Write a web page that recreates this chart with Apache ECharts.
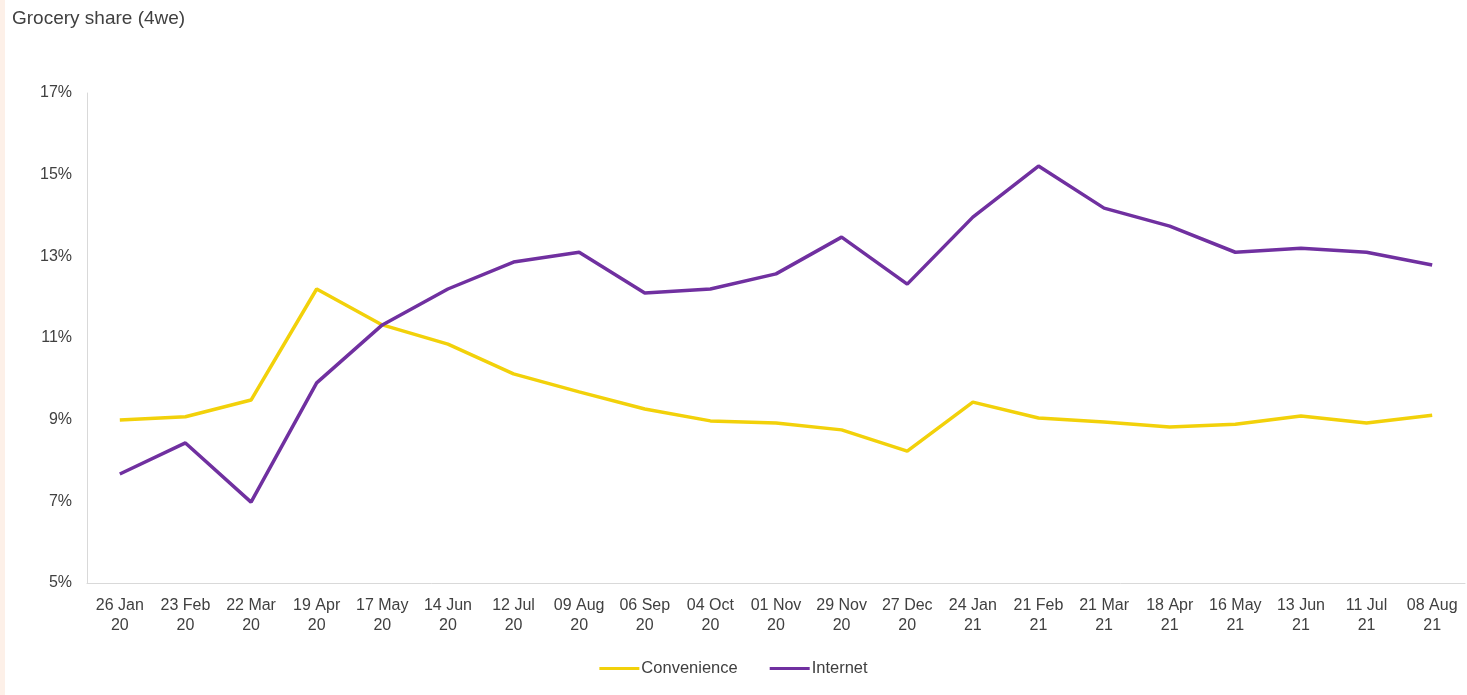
<!DOCTYPE html>
<html><head><meta charset="utf-8">
<script src="https://cdn.jsdelivr.net/npm/echarts@6/dist/echarts.min.js"></script>
<style>html,body{margin:0;padding:0;background:#fff}#c{width:1467px;height:695px}</style>
</head><body><div id="c"></div>
<script>
const categories = ["26 Jan\n20","23 Feb\n20","22 Mar\n20","19 Apr\n20","17 May\n20","14 Jun\n20","12 Jul\n20","09 Aug\n20","06 Sep\n20","04 Oct\n20","01 Nov\n20","29 Nov\n20","27 Dec\n20","24 Jan\n21","21 Feb\n21","21 Mar\n21","18 Apr\n21","16 May\n21","13 Jun\n21","11 Jul\n21","08 Aug\n21"];
const convenience = [8.99,9.07,9.48,12.2,11.32,10.85,10.12,9.68,9.26,8.97,8.92,8.75,8.23,9.43,9.04,8.94,8.82,8.89,9.09,8.92,9.11];
const internet = [7.67,8.43,6.98,9.9,11.32,12.2,12.86,13.1,12.1,12.2,12.57,13.47,12.32,13.96,15.21,14.18,13.74,13.1,13.2,13.1,12.79];
const yTicks = {min:5, max:17, interval:2};

const chart = echarts.init(document.getElementById('c'));
const font = 'Liberation Sans, Arial, sans-serif';
chart.setOption({
  animation:false,
  textStyle:{fontFamily:font},
  graphic:[{type:'rect',left:0,top:0,shape:{width:5,height:695},style:{fill:'#fdf0e8'}}],
  title:{text:'Grocery share (4we)',left:7,top:4,textStyle:{fontFamily:font,fontSize:19,fontWeight:'normal',color:'#404040'}},
  grid:{left:87,right:2,top:93,bottom:112},
  legend:{bottom:13,left:'center',itemWidth:40,itemHeight:3,itemGap:32,icon:'rect',
    textStyle:{fontFamily:font,fontSize:16.5,color:'#404040',padding:[0,0,0,-3]},
    data:['Convenience','Internet']},
  xAxis:{type:'category',data:categories,boundaryGap:true,
    axisLine:{lineStyle:{color:'#d9d9d9',width:1}},axisTick:{show:false},
    axisLabel:{interval:0,fontFamily:font,fontSize:16,color:'#404040',lineHeight:20,margin:13}},
  yAxis:{type:'value',min:yTicks.min,max:yTicks.max,interval:yTicks.interval,
    axisLine:{show:true,lineStyle:{color:'#d9d9d9',width:1}},axisTick:{show:false},splitLine:{show:false},
    axisLabel:{formatter:v=>v+'%',fontFamily:font,fontSize:16,color:'#404040',margin:15}},
  series:[
    {name:'Convenience',type:'line',data:convenience,symbol:'none',lineStyle:{color:'#f2d10a',width:3.5},itemStyle:{color:'#f2d10a'}},
    {name:'Internet',type:'line',data:internet,symbol:'none',lineStyle:{color:'#7030a0',width:3.5},itemStyle:{color:'#7030a0'}}
  ]
});
</script></body></html>
